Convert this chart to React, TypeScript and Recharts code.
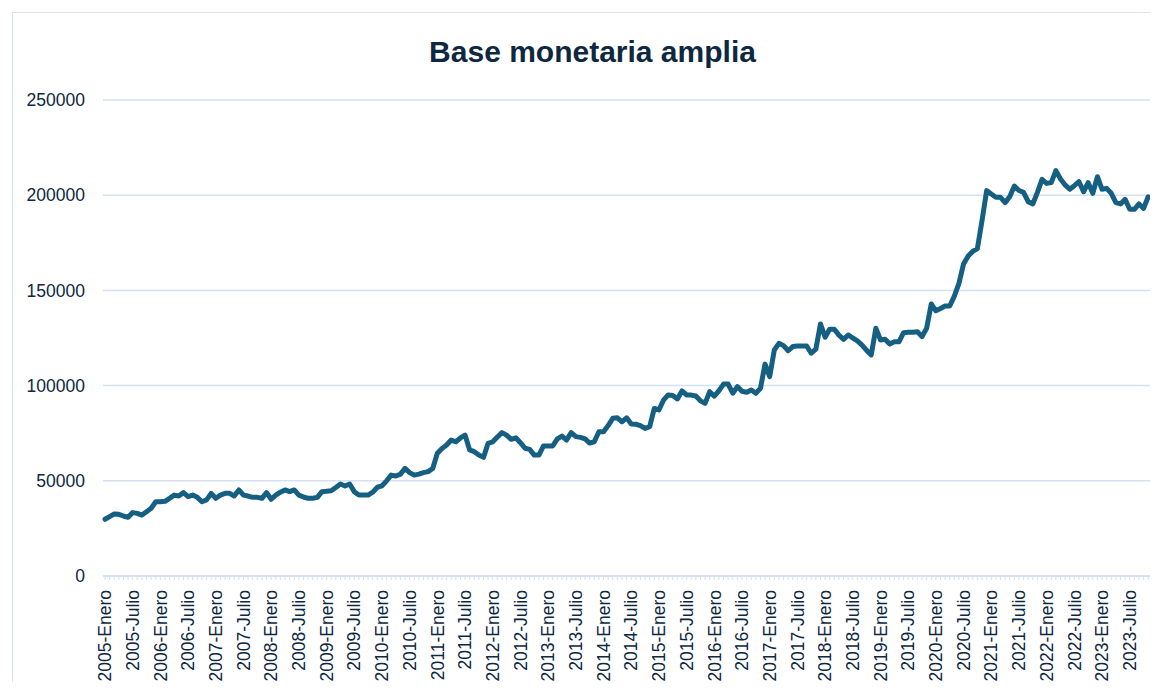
import React from "react";
import { LineChart, Line, XAxis, YAxis, CartesianGrid } from "recharts";

const MONTHS = [
  "Enero", "Febrero", "Marzo", "Abril", "Mayo", "Junio",
  "Julio", "Agosto", "Septiembre", "Octubre", "Noviembre", "Diciembre",
];
const START_YEAR = 2005;

// Base monetaria amplia, monthly, 2005-Enero .. 2023-Noviembre
const baseValues = [
  29800, 31200, 32600, 32400, 31500, 30800, 33300, 32900, 32000, 33800, 35600, 39000,
  39000, 39200, 40800, 42500, 42000, 43800, 41700, 42500, 41300, 39000, 40000, 43400,
  40800, 42500, 43400, 43400, 42000, 45200, 42500, 42000, 41300, 41300, 40800, 43800,
  40300, 42500, 44000, 45200, 44300, 45200, 42500, 41500, 40800, 40800, 41300, 44300,
  44500, 44800, 46500, 48300, 47300, 48300, 44300, 42500, 42500, 42500, 44000, 46600,
  47300, 50000, 53000, 52500, 53500, 56500, 54300, 53000, 53500, 54300, 54800, 56500,
  64500, 67000, 68800, 71400, 70500, 72500, 74000, 66200, 65300, 63500, 62300, 69700,
  70500, 73000, 75300, 74000, 71800, 72600, 70000, 67100, 66500, 63500, 63500, 68300,
  68300, 68300, 72000, 73500, 71400, 75300, 73200, 72800, 72000, 69800, 70500, 75800,
  75800, 79000, 82800, 83100, 81000, 83100, 79800, 79700, 79000, 77500, 78400, 88000,
  87200, 92400, 95100, 94800, 93000, 97200, 95100, 95000, 94500, 92000, 90700, 96800,
  94500, 97300, 100800, 100800, 96000, 99500, 97000, 96500, 97700, 96000, 98600, 111300,
  104700, 118700, 122200, 121000, 118300, 120500, 120800, 120800, 120800, 117000, 119100, 132400,
  125400, 129600, 129600, 126500, 124300, 126600, 125000, 123500, 121300, 118500, 116100, 130100,
  124000, 124300, 121800, 123000, 123000, 127800, 128000, 128000, 128300, 125700, 130100, 142900,
  139300, 140500, 141800, 141800, 147000, 153700, 163900, 168100, 170500, 172000, 186600, 202400,
  200600, 198900, 198900, 196100, 199200, 204800, 202500, 201500, 196600, 195400, 201500, 208300,
  206200, 206600, 212900, 208500, 205400, 203100, 205000, 207100, 201800, 206600, 201000, 209700,
  203100, 203600, 201000, 196100, 195400, 197800, 192600, 192600, 195400, 193100, 199200,
];

const categories = baseValues.map(
  (_, i) => `${START_YEAR + Math.floor(i / 12)}-${MONTHS[i % 12]}`
);
const yTicks = [0, 50000, 100000, 150000, 200000, 250000];
const LABEL_EVERY = 6;

const data = categories.map((periodo, i) => ({ periodo, base: baseValues[i] }));

const FONT = "'Liberation Sans', Arial, sans-serif";
const TEXT = "#0E2841";
const GRID = "#D3E1F1";
const LINE = "#156082";

function XTick(props: any) {
  const { x, y, payload, index } = props;
  const showLabel = index % LABEL_EVERY === 0;
  const ty = y + 14;
  return (
    <g>
      <line x1={x} x2={x} y1={y} y2={y + 4} stroke={GRID} strokeWidth={1} />
      {showLabel && (
        <text
          x={x}
          y={ty}
          dy="0.355em"
          transform={`rotate(-90 ${x} ${ty})`}
          textAnchor="end"
          fill={TEXT}
          fontSize={17.5}
          fontFamily={FONT}
        >
          {payload.value}
        </text>
      )}
    </g>
  );
}

export default function App() {
  return (
    <div style={{ position: "relative", width: 1142, height: 674 }}>
      <div
        style={{
          position: "absolute",
          left: 4,
          top: 4,
          width: 1146,
          height: 678,
          borderLeft: "1px solid #D6E4F3",
          borderTop: "1px solid #D6E4F3",
          boxSizing: "border-box",
        }}
      />
      <div
        style={{
          position: "absolute",
          left: -8,
          top: 29,
          width: 1185,
          textAlign: "center",
          fontFamily: FONT,
          fontWeight: 700,
          fontSize: 30,
          lineHeight: "30px",
          color: TEXT,
        }}
      >
        Base monetaria amplia
      </div>
      <div style={{ position: "absolute", left: 5, top: 5 }}>
        <LineChart
          width={1144}
          height={676}
          data={data}
          margin={{ top: 87, right: 6, bottom: 0, left: 0 }}
        >
          <CartesianGrid
            vertical={false}
            horizontal={true}
            stroke={GRID}
            strokeWidth={1.5}
          />
          <XAxis
            dataKey="periodo"
            interval={0}
            height={113}
            padding={{ left: 2, right: 2.8 }}
            axisLine={{ stroke: GRID, strokeWidth: 1.5 }}
            tickLine={false}
            tickSize={0}
            tickMargin={0}
            tick={<XTick />}
          />
          <YAxis
            width={90}
            domain={[0, 250000]}
            ticks={yTicks}
            interval={0}
            axisLine={false}
            tickLine={false}
            tickSize={0}
            tickMargin={18}
            tick={{ fill: TEXT, fontSize: 17.5, fontFamily: FONT }}
          />
          <Line
            type="linear"
            dataKey="base"
            stroke={LINE}
            strokeWidth={5}
            strokeLinejoin="round"
            strokeLinecap="round"
            dot={false}
            activeDot={false}
            isAnimationActive={false}
          />
        </LineChart>
      </div>
    </div>
  );
}
